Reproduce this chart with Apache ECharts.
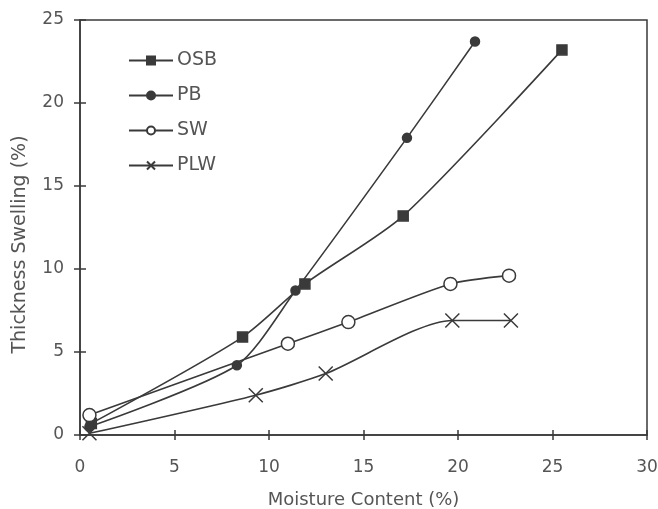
<!DOCTYPE html>
<html>
<head>
<meta charset="utf-8">
<script src="https://cdn.jsdelivr.net/npm/echarts@6/dist/echarts.min.js"></script>
<style>html,body{margin:0;padding:0;background:#fff}#c{width:658px;height:509px}</style>
</head>
<body>
<div id="c"></div>
<script>
// Data (x = moisture content %, y = thickness swelling %)
const osbX = [0.6, 8.6, 11.9, 17.1, 25.5];
const osbY = [0.7, 5.9, 9.1, 13.2, 23.2];
const pbX = [0.5, 8.3, 11.4, 17.3, 20.9];
const pbY = [0.5, 4.2, 8.7, 17.9, 23.7];
const swX = [0.5, 11.0, 14.2, 19.6, 22.7];
const swY = [1.2, 5.5, 6.8, 9.1, 9.6];
const plwX = [0.5, 9.3, 13.0, 19.7, 22.8];
const plwY = [0.1, 2.4, 3.7, 6.9, 6.9];
const seriesNames = ['OSB', 'PB', 'SW', 'PLW'];
const xTicks = [0, 5, 10, 15, 20, 25, 30];
const yTicks = [0, 5, 10, 15, 20, 25];

const pairs = (xs, ys) => xs.map((x, i) => [x, ys[i]]);
const ink = '#3a3a3a';
const txt = '#555';
const font = 'DejaVu Sans, Verdana, sans-serif';

function mk(name, data, symbol, size, fill) {
  return {
    name, type: 'line', data, smooth: 0.25,
    symbol, symbolSize: size,
    lineStyle: { color: ink, width: 1.6 },
    itemStyle: { color: fill, borderColor: ink, borderWidth: 1.5 },
    emphasis: { disabled: true }
  };
}

const chart = echarts.init(document.getElementById('c'), null, { renderer: 'canvas' });
chart.setOption({
  animation: false,
  backgroundColor: '#fff',
  textStyle: { fontFamily: font },
  grid: { left: 80, right: 11, top: 20, bottom: 74, outerBoundsMode: 'none', containLabel: false,
    show: true, borderColor: ink, borderWidth: 1.5, backgroundColor: 'transparent' },
  legend: {
    orient: 'vertical', left: 128, top: 51, padding: 0, itemWidth: 44, itemHeight: 10, itemGap: 16,
    data: seriesNames,
    textStyle: { color: txt, fontSize: 19, fontFamily: font, padding: [0, 0, 0, -1] }
  },
  xAxis: [{
    type: 'value', min: 0, max: 30, interval: 5,
    name: 'Moisture Content (%)', nameLocation: 'middle', nameGap: 56,
    nameTextStyle: { color: txt, fontSize: 18, fontFamily: font },
    axisLine: { lineStyle: { color: ink, width: 1.5 } },
    axisTick: { show: true, inside: false, length: 5, lineStyle: { color: ink, width: 1.5 } },
    axisLabel: { color: txt, fontSize: 17, margin: 24, fontFamily: font,
      formatter: v => xTicks.includes(v) ? String(v) : '' },
    splitLine: { show: false }
  }, {
    type: 'value', min: 0, max: 30, interval: 5, position: 'bottom', gridIndex: 0,
    axisLine: { show: false },
    axisTick: { show: true, inside: true, length: 5, lineStyle: { color: ink, width: 1.5 } },
    axisLabel: { show: false }, splitLine: { show: false }
  }],
  yAxis: [{
    type: 'value', min: 0, max: 25, interval: 5,
    name: 'Thickness Swelling (%)', nameLocation: 'middle', nameGap: 50,
    nameTextStyle: { color: txt, fontSize: 19, fontFamily: font, padding: [0, 34, 0, 0] },
    axisLine: { show: true, lineStyle: { color: ink, width: 1.5 } },
    axisTick: { show: true, inside: false, length: 6, lineStyle: { color: ink, width: 1.5 } },
    axisLabel: { color: txt, fontSize: 17, margin: 16, fontFamily: font,
      formatter: v => yTicks.includes(v) ? String(v) : '' },
    splitLine: { show: false }
  }, {
    type: 'value', min: 0, max: 25, interval: 5, position: 'left',
    axisLine: { show: false },
    axisTick: { show: true, inside: true, length: 6, lineStyle: { color: ink, width: 1.5 } },
    axisLabel: { show: false }, splitLine: { show: false }
  }],
  series: [
    mk('OSB', pairs(osbX, osbY), 'rect', 10, ink),
    mk('PB', pairs(pbX, pbY), 'circle', 9, ink),
    mk('SW', pairs(swX, swY), 'circle', 13, '#fff'),
    Object.assign(mk('PLW', pairs(plwX, plwY), 'path://M0,0L10,10M10,0L0,10', 14, 'rgba(0,0,0,0)'),
      { itemStyle: { color: 'rgba(0,0,0,0)', borderColor: ink, borderWidth: 1.5 } })
  ]
});
</script>
</body>
</html>
